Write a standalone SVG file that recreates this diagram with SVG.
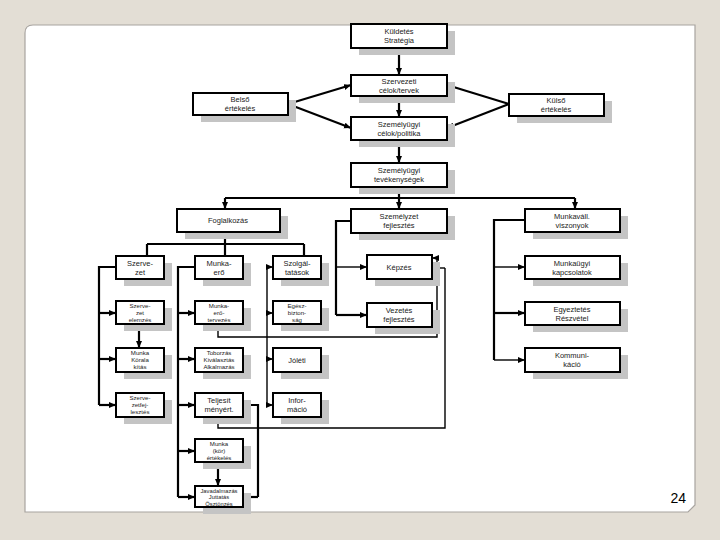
<svg xmlns="http://www.w3.org/2000/svg" width="720" height="540" viewBox="0 0 720 540">
<style>
.bx{fill:#fff;stroke:#000;stroke-width:2}
.sh{fill:#c4c4c4}
.t{font-family:"Liberation Sans",Arial,sans-serif;font-size:7.5px;fill:#222;text-anchor:middle}
.s{font-size:6.1px}
.c{fill:none;stroke:#000;stroke-width:2.2}
.a{fill:none;stroke:#000;stroke-width:2.2;marker-end:url(#ah)}
.f{fill:none;stroke:#000;stroke-width:1.4}
.fa{fill:none;stroke:#000;stroke-width:1.4;marker-end:url(#ah)}
</style>
<defs>
<marker id="ah" markerUnits="userSpaceOnUse" markerWidth="8" markerHeight="7" refX="7" refY="3.5" orient="auto"><path d="M0,0.5 L7,3.5 L0,6.5 z" fill="#000"/></marker>
</defs>
<rect x="0" y="0" width="720" height="540" fill="#e3ded5"/>
<path d="M33,25 H695 V505 L688,512 H25 V33 Q25,25 33,25 Z" fill="#fff" stroke="#a8a4a0" stroke-width="1.2"/>
<text x="686" y="503" font-family="'Liberation Sans',Arial,sans-serif" font-size="14" text-anchor="end" fill="#000">24</text>

<g id="connectors">
<path class="a" d="M399,48 V75"/>
<path class="a" d="M399,96 V117"/>
<path class="a" d="M399,140 V163"/>
<path class="a" d="M288,104 L351,85"/>
<path class="a" d="M288,104 L351,128"/>
<path class="a" d="M509,104 L447,85"/>
<path class="a" d="M509,104 L447,128"/>
<path class="c" d="M399,187 V198"/>
<path class="c" d="M225,198 H575"/>
<path class="a" d="M225,198 V209"/>
<path class="a" d="M399,198 V209"/>
<path class="a" d="M575,198 V209"/>
<path class="c" d="M225,232 V244 M147,244 H304 M147,244 V256 M225,244 V256 M304,244 V256"/>
<path class="c" d="M116,267 H99 V405"/>
<path class="a" d="M99,313 H116"/>
<path class="a" d="M99,359 H116"/>
<path class="a" d="M99,405 H116"/>
<path class="a" d="M139,324 V348"/>
<path class="c" d="M195,267 H178 V497"/>
<path class="a" d="M178,313 H195"/>
<path class="a" d="M178,359 H195"/>
<path class="a" d="M178,405 H195"/>
<path class="a" d="M178,451 H195"/>
<path class="a" d="M178,497 H195"/>
<path class="a" d="M218,462 V486"/>
<path class="c" d="M243,405 H258 V497"/>
<path class="a" d="M258,497 H243"/>
<path class="f" d="M267,267 V405"/>
<path class="fa" d="M267,267 H273"/>
<path class="fa" d="M267,313 H273"/>
<path class="fa" d="M267,359 H273"/>
<path class="fa" d="M267,405 H273"/>
<path class="f" d="M218,324 V337 H437 V258"/>
<path class="fa" d="M437,258 H432"/>
<path class="f" d="M218,417 V428 H445 V268"/>
<path class="fa" d="M445,268 H432"/>
<path class="c" d="M351,221 H336 V315"/>
<path class="fa" d="M336,267 H367"/>
<path class="a" d="M336,315 H367"/>
<path class="c" d="M525,220 H494 V360"/>
<path class="fa" d="M494,267 H525"/>
<path class="a" d="M494,313 H525"/>
<path class="fa" d="M494,360 H525"/>
</g>

<g id="kuldetes"><rect class="sh" x="359" y="31" width="96" height="24"/><rect class="bx" x="351" y="24" width="96" height="24"/><text class="t" x="399" y="34">Küldetés</text><text class="t" x="399" y="43">Stratégia</text></g>
<g id="szervezeti"><rect class="sh" x="359" y="82" width="96" height="21"/><rect class="bx" x="351" y="75" width="96" height="21"/><text class="t" x="399" y="84">Szervezeti</text><text class="t" x="399" y="93">célok/tervek</text></g>
<g id="belso"><rect class="sh" x="201" y="100" width="95" height="22"/><rect class="bx" x="193" y="93" width="95" height="22"/><text class="t" x="240" y="102">Belső</text><text class="t" x="240" y="111">értékelés</text></g>
<g id="kulso"><rect class="sh" x="517" y="101" width="95" height="22"/><rect class="bx" x="509" y="94" width="95" height="22"/><text class="t" x="556" y="103">Külső</text><text class="t" x="556" y="112">értékelés</text></g>
<g id="szemelyugyi-celok"><rect class="sh" x="359" y="124" width="96" height="23"/><rect class="bx" x="351" y="117" width="96" height="23"/><text class="t" x="399" y="127">Személyügyi</text><text class="t" x="399" y="136">célok/politika</text></g>
<g id="tevekenysegek"><rect class="sh" x="359" y="170" width="96" height="24"/><rect class="bx" x="351" y="163" width="96" height="24"/><text class="t" x="399" y="173">Személyügyi</text><text class="t" x="399" y="182">tevékenységek</text></g>
<g id="foglalkozas"><rect class="sh" x="185" y="216" width="103" height="23"/><rect class="bx" x="177" y="209" width="103" height="23"/><text class="t" x="228" y="223">Foglalkozás</text></g>
<g id="szemelyzet-fejlesztes"><rect class="sh" x="359" y="216" width="96" height="24"/><rect class="bx" x="351" y="209" width="96" height="24"/><text class="t" x="399" y="219">Személyzet</text><text class="t" x="399" y="228">fejlesztés</text></g>
<g id="munkavall"><rect class="sh" x="533" y="216" width="95" height="23"/><rect class="bx" x="525" y="209" width="95" height="23"/><text class="t" x="572" y="219">Munkaváll.</text><text class="t" x="572" y="228">viszonyok</text></g>

<g id="szervezet"><rect class="sh" x="124" y="263" width="48" height="23"/><rect class="bx" x="116" y="256" width="48" height="23"/><text class="t" x="140" y="266">Szerve-</text><text class="t" x="140" y="275">zet</text></g>
<g id="szervezet-elemzes"><rect class="sh" x="124" y="308" width="48" height="23"/><rect class="bx" x="116" y="301" width="48" height="23"/><text class="t s" x="140" y="308">Szerve-</text><text class="t s" x="140" y="315">zet</text><text class="t s" x="140" y="322">elemzés</text></g>
<g id="munkakor-alakitas"><rect class="sh" x="124" y="355" width="48" height="24"/><rect class="bx" x="116" y="348" width="48" height="24"/><text class="t s" x="140" y="355">Munka</text><text class="t s" x="140" y="362">Körala</text><text class="t s" x="140" y="369">kítás</text></g>
<g id="szervezetfejlesztes"><rect class="sh" x="124" y="400" width="48" height="24"/><rect class="bx" x="116" y="393" width="48" height="24"/><text class="t s" x="140" y="400">Szerve-</text><text class="t s" x="140" y="407">zetfej-</text><text class="t s" x="140" y="414">lesztés</text></g>

<g id="munkaero"><rect class="sh" x="203" y="263" width="48" height="23"/><rect class="bx" x="195" y="256" width="48" height="23"/><text class="t" x="219" y="266">Munka-</text><text class="t" x="219" y="275">erő</text></g>
<g id="munkaero-tervezes"><rect class="sh" x="203" y="308" width="48" height="23"/><rect class="bx" x="195" y="301" width="48" height="23"/><text class="t s" x="219" y="308">Munka-</text><text class="t s" x="219" y="315">erő-</text><text class="t s" x="219" y="322">tervezés</text></g>
<g id="toborzas"><rect class="sh" x="203" y="355" width="48" height="24"/><rect class="bx" x="195" y="348" width="48" height="24"/><text class="t s" x="219" y="355">Toborzás</text><text class="t s" x="219" y="362">Kiválasztás</text><text class="t s" x="219" y="369">Alkalmazás</text></g>
<g id="teljesitmenyert"><rect class="sh" x="203" y="400" width="48" height="24"/><rect class="bx" x="195" y="393" width="48" height="24"/><text class="t" x="219" y="403">Teljesít</text><text class="t" x="219" y="412">ményért.</text></g>
<g id="munkakor-ertekeles"><rect class="sh" x="203" y="446" width="48" height="23"/><rect class="bx" x="195" y="439" width="48" height="23"/><text class="t s" x="219" y="446">Munka</text><text class="t s" x="219" y="453">(kör)</text><text class="t s" x="219" y="460">értékelés</text></g>
<g id="osztonzes"><rect class="sh" x="203" y="493" width="48" height="21"/><rect class="bx" x="195" y="486" width="48" height="21"/><text class="t s" x="219" y="492.5" style="font-size:5.8px">Javadalmazás</text><text class="t s" x="219" y="499" style="font-size:5.8px">Juttatás</text><text class="t s" x="219" y="505.5" style="font-size:5.8px">Ösztönzés</text></g>

<g id="szolgaltatasok"><rect class="sh" x="281" y="263" width="48" height="23"/><rect class="bx" x="273" y="256" width="48" height="23"/><text class="t" x="297" y="266">Szolgál-</text><text class="t" x="297" y="275">tatások</text></g>
<g id="egeszseg"><rect class="sh" x="281" y="308" width="48" height="23"/><rect class="bx" x="273" y="301" width="48" height="23"/><text class="t s" x="297" y="308">Egész-</text><text class="t s" x="297" y="315">bizton-</text><text class="t s" x="297" y="322">ság</text></g>
<g id="joleti"><rect class="sh" x="281" y="355" width="48" height="24"/><rect class="bx" x="273" y="348" width="48" height="24"/><text class="t" x="297" y="363">Jóléti</text></g>
<g id="informacio"><rect class="sh" x="281" y="400" width="48" height="24"/><rect class="bx" x="273" y="393" width="48" height="24"/><text class="t" x="297" y="403">Infor-</text><text class="t" x="297" y="412">máció</text></g>

<g id="kepzes"><rect class="sh" x="375" y="262" width="65" height="24"/><rect class="bx" x="367" y="255" width="65" height="24"/><text class="t" x="399" y="270">Képzés</text></g>
<g id="vezetes-fejlesztes"><rect class="sh" x="375" y="310" width="65" height="24"/><rect class="bx" x="367" y="303" width="65" height="24"/><text class="t" x="399" y="313">Vezetés</text><text class="t" x="399" y="322">fejlesztés</text></g>

<g id="munkaugyi"><rect class="sh" x="533" y="263" width="95" height="23"/><rect class="bx" x="525" y="256" width="95" height="23"/><text class="t" x="572" y="266">Munkaügyi</text><text class="t" x="572" y="275">kapcsolatok</text></g>
<g id="egyeztetes"><rect class="sh" x="533" y="309" width="95" height="23"/><rect class="bx" x="525" y="302" width="95" height="23"/><text class="t" x="572" y="312">Egyeztetés</text><text class="t" x="572" y="321">Részvétel</text></g>
<g id="kommunikacio"><rect class="sh" x="533" y="355" width="95" height="24"/><rect class="bx" x="525" y="348" width="95" height="24"/><text class="t" x="572" y="358">Kommuni-</text><text class="t" x="572" y="367">káció</text></g>
</svg>
